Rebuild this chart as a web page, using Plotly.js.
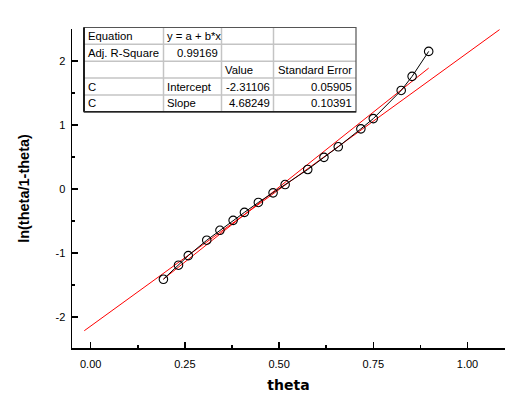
<!DOCTYPE html>
<html>
<head>
<meta charset="utf-8">
<script src="https://cdn.plot.ly/plotly-3.0.1.min.js"></script>
<style>html,body{margin:0;padding:0;background:#fff;}#chart{width:520px;height:397px;}</style>
</head>
<body>
<div id="chart"></div>
<script>
// ---- data ----
const theta = [0.193, 0.233, 0.259, 0.308, 0.343, 0.378, 0.408, 0.445, 0.484, 0.516,
               0.576, 0.619, 0.657, 0.717, 0.750, 0.824, 0.853, 0.897];
const lnRatio = [-1.41, -1.19, -1.04, -0.80, -0.645, -0.49, -0.365, -0.21, -0.06, 0.07,
                 0.305, 0.495, 0.66, 0.94, 1.10, 1.54, 1.76, 2.15];
const fitIntercept = -2.31106;
const fitSlope = 4.68249;
const fitX = [0.193, 0.897];
const refX = [-0.017, 1.085];
const refY = [-2.214, 2.49];
const xTickVals = [0, 0.25, 0.5, 0.75, 1.0];
const xTickText = ["0.00", "0.25", "0.50", "0.75", "1.00"];
const yTickVals = [-2, -1, 0, 1, 2];
const yTickText = ["-2", "-1", "0", "1", "2"];
const tableRows = [
  ["Equation", "y = a + b*x", "", ""],
  ["Adj. R-Square", "0.99169", "", ""],
  ["", "", "Value", "Standard Error"],
  ["C", "Intercept", "-2.31106", "0.05905"],
  ["C", "Slope", "4.68249", "0.10391"]
];

// ---- layout geometry (pixels) ----
const W = 520, H = 397;
const M = {l: 72, r: 15, t: 29, b: 49};
const PW = W - M.l - M.r, PH = H - M.t - M.b;
const px = v => (v - M.l) / PW;
const py = v => (H - M.b - v) / PH;

const fitY = fitX.map(x => fitIntercept + fitSlope * x);

const traces = [
  {x: refX, y: refY, mode: 'lines', line: {color: '#ff0000', width: 1}, hoverinfo: 'skip', showlegend: false},
  {x: fitX, y: fitY, mode: 'lines', line: {color: '#ff0000', width: 1}, hoverinfo: 'skip', showlegend: false},
  {x: theta, y: lnRatio, mode: 'lines+markers',
   line: {color: '#000', width: 1},
   marker: {symbol: 'circle-open', size: 8.5, color: '#000', line: {width: 1.1, color: '#000'}},
   showlegend: false}
];

// table geometry
const colEdges = [84, 163.5, 221.5, 273.5, 356];
const rowEdges = [27.5, 44.3, 61.2, 78.1, 94.9, 111.8];
const shapes = [];
shapes.push({type: 'rect', xref: 'paper', yref: 'paper', x0: px(colEdges[0]), x1: px(colEdges[4]),
             y0: py(rowEdges[0]), y1: py(rowEdges[5]), fillcolor: '#fff', line: {width: 0}, layer: 'above'});
for (let i = 1; i < rowEdges.length - 1; i++) {
  shapes.push({type: 'line', xref: 'paper', yref: 'paper', x0: px(colEdges[0]), x1: px(colEdges[4]),
               y0: py(rowEdges[i]), y1: py(rowEdges[i]), line: {color: '#c4c4c4', width: 1.5}, layer: 'above'});
}
for (let j = 1; j < colEdges.length - 1; j++) {
  shapes.push({type: 'line', xref: 'paper', yref: 'paper', x0: px(colEdges[j]), x1: px(colEdges[j]),
               y0: py(rowEdges[0]), y1: py(rowEdges[5]), line: {color: '#c4c4c4', width: 1.5}, layer: 'above'});
}
shapes.push({type: 'rect', xref: 'paper', yref: 'paper', x0: px(colEdges[0]), x1: px(colEdges[4]),
             y0: py(rowEdges[0]), y1: py(rowEdges[5]), line: {color: '#555', width: 1.2}, layer: 'above'});
shapes.push({type: 'line', xref: 'paper', yref: 'paper', x0: px(colEdges[0]), x1: px(colEdges[0]),
             y0: py(rowEdges[0]), y1: py(rowEdges[5]), line: {color: '#000', width: 1.6}, layer: 'above'});
shapes.push({type: 'line', xref: 'paper', yref: 'paper', x0: px(colEdges[0]), x1: px(colEdges[4]),
             y0: py(rowEdges[5]), y1: py(rowEdges[5]), line: {color: '#222', width: 1.4}, layer: 'above'});

const annotations = [];
const tFont = {family: 'Liberation Sans, Arial, sans-serif', size: 11.3, color: '#000'};
const isNum = s => /^-?\d/.test(s);
tableRows.forEach((row, r) => {
  const yc = (rowEdges[r] + rowEdges[r + 1]) / 2;
  row.forEach((txt, c) => {
    if (!txt) return;
    let right = isNum(txt) && c > 0;
    if (txt === "Standard Error") right = true;
    const xpos = right ? colEdges[c + 1] - 3 : colEdges[c] + 2.5;
    annotations.push({xref: 'paper', yref: 'paper', x: px(xpos), y: py(yc),
      xanchor: right ? 'right' : 'left', yanchor: 'middle', text: txt, showarrow: false,
      font: tFont, borderpad: 0});
  });
});

const layout = {
  width: W, height: H,
  margin: M,
  paper_bgcolor: '#fff', plot_bgcolor: '#fff',
  showlegend: false,
  xaxis: {
    range: [-0.0496, 1.0995], showgrid: false, zeroline: false,
    showline: true, linecolor: '#000', linewidth: 1.5,
    tickmode: 'array', tickvals: xTickVals, ticktext: xTickText,
    ticks: 'inside', ticklen: 6, tickwidth: 1.5, tickcolor: '#000',
    minor: {ticks: 'inside', ticklen: 3, tickwidth: 1.5, tickcolor: '#000', dtick: 0.125, tick0: 0, showgrid: false},
    tickfont: {family: 'Liberation Sans, Arial, sans-serif', size: 11, color: '#000'},
    ticklabelstandoff: 5,
    title: {text: '<b>theta</b>', font: {family: 'DejaVu Sans, sans-serif', size: 14, color: '#000'}, standoff: 11}
  },
  yaxis: {
    range: [-2.484, 2.5], showgrid: false, zeroline: false,
    showline: true, linecolor: '#000', linewidth: 1.5,
    tickmode: 'array', tickvals: yTickVals, ticktext: yTickText,
    ticks: 'inside', ticklen: 6, tickwidth: 1.5, tickcolor: '#000',
    minor: {ticks: 'inside', ticklen: 3, tickwidth: 1.5, tickcolor: '#000', dtick: 0.5, tick0: 0, showgrid: false},
    tickfont: {family: 'Liberation Sans, Arial, sans-serif', size: 11, color: '#000'},
    ticklabelstandoff: 3,
    title: {text: '<b>ln(theta/1-theta)</b>', font: {family: 'Liberation Sans, Arial, sans-serif', size: 14.5, color: '#000'}, standoff: 22}
  },
  shapes: shapes,
  annotations: annotations
};

Plotly.newPlot('chart', traces, layout, {staticPlot: true, displayModeBar: false});
</script>
</body>
</html>
